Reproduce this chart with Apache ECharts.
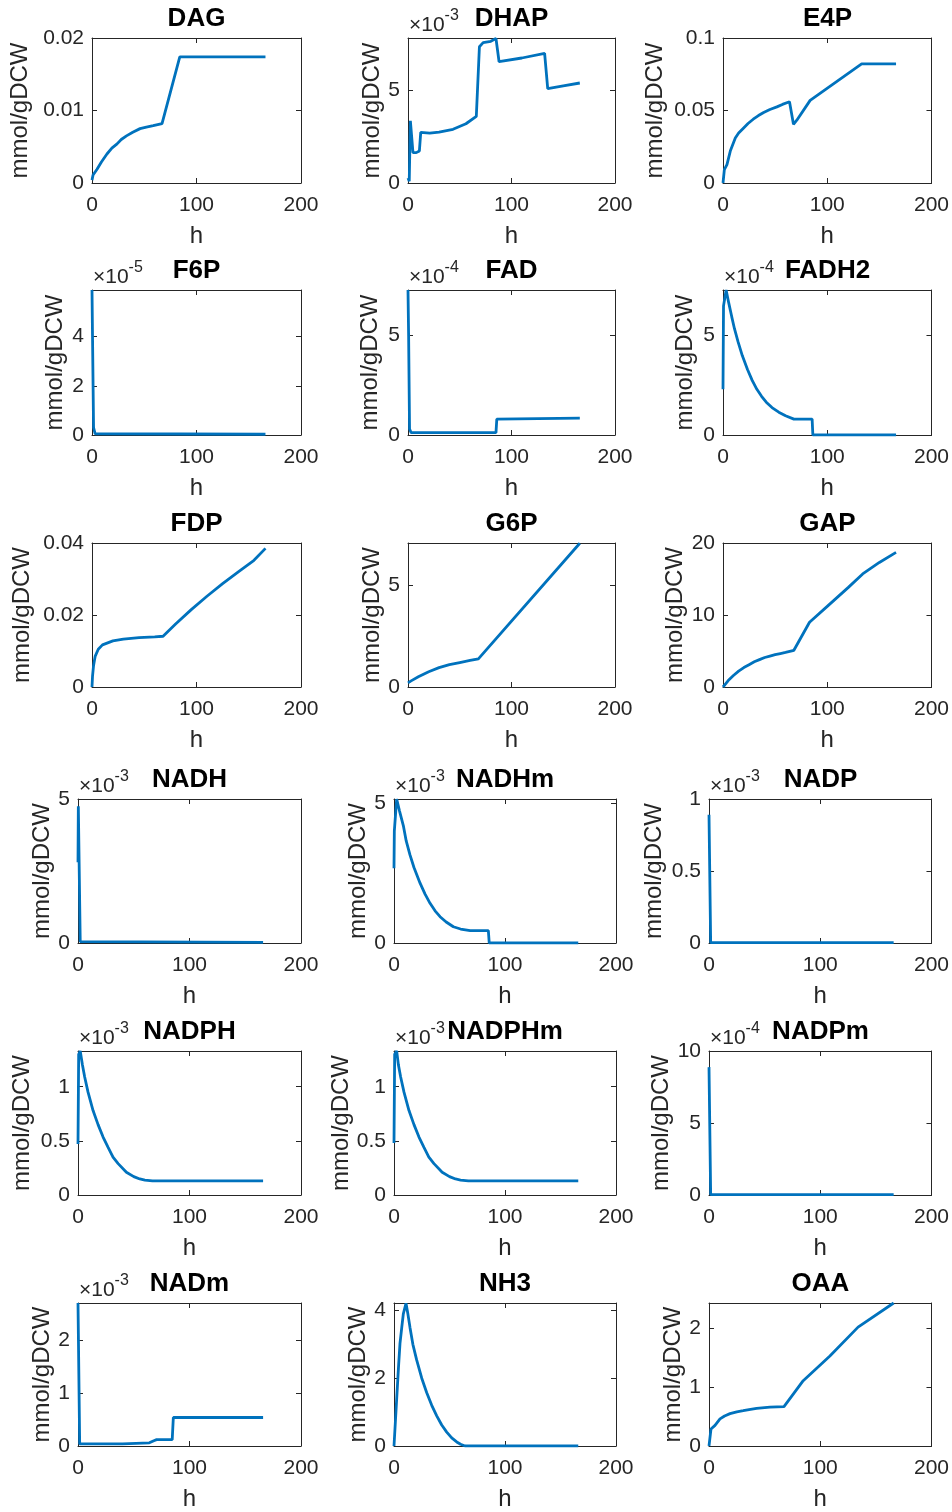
<!DOCTYPE html>
<html>
<head>
<meta charset="utf-8">
<script src="https://cdn.jsdelivr.net/npm/echarts@6/dist/echarts.min.js"></script>
<style>
html, body { margin: 0; padding: 0; background: #fff; }
#chart { width: 952px; height: 1512px; }
</style>
</head>
<body>
<div id="chart"></div>
<script>
// time in h, values in the units shown on each y axis (see exponent per panel)
const dagT = [0, 1, 4.8, 9, 14.3, 19, 24, 28, 33, 39, 46, 52, 58.6, 67, 84, 166];
const dagV = [0.0004, 0.0011, 0.0019, 0.0029, 0.004, 0.0048, 0.0054, 0.006, 0.0065, 0.007, 0.0075, 0.0077, 0.0079, 0.0082, 0.0174, 0.0174];

const dhapT = [0, 1.2, 2.3, 4.8, 8, 11, 12.3, 21, 30, 43.5, 56, 66, 69, 72.6, 80, 85, 88, 110, 132, 135, 150, 166];
const dhapV = [0.27, 0.1, 3.36, 1.64, 1.64, 1.73, 2.73, 2.69, 2.75, 2.9, 3.2, 3.6, 7.36, 7.58, 7.65, 7.8, 6.55, 6.75, 7.0, 5.1, 5.25, 5.4];

const e4pT = [0, 1.3, 3.8, 7, 11.8, 15, 19.8, 24, 29, 34, 39, 45, 51.7, 57, 63.8, 67.6, 70.8, 83.6, 133, 166];
const e4pV = [0, 0.0093, 0.0127, 0.022, 0.031, 0.0345, 0.038, 0.041, 0.044, 0.0465, 0.0486, 0.0507, 0.0525, 0.0542, 0.056, 0.0405, 0.0433, 0.057, 0.0822, 0.0822];

const f6pT = [0, 0.5, 1.5, 3, 166];
const f6pV = [5.9, 4, 0.3, 0.05, 0.03];

const fadT = [0, 0.6, 1.5, 3, 85, 85.8, 166];
const fadV = [7.3, 5, 0.3, 0.12, 0.12, 0.8, 0.85];

const fadh2T = [0, 0.5, 3, 5.5, 8.4, 11, 14.4, 18.5, 23.5, 28, 32.5, 37, 41.5, 47, 53.5, 60, 68, 85.5, 86.2, 166];
const fadh2V = [2.3, 6.5, 7.3, 6.65, 5.95, 5.35, 4.7, 4.0, 3.3, 2.75, 2.3, 1.95, 1.65, 1.38, 1.15, 0.97, 0.8, 0.8, 0, 0];

const fdpT = [0, 0.5, 1.5, 3, 6, 10, 20, 30, 45, 60, 68, 80, 95, 110, 125, 140, 155, 166];
const fdpV = [0, 0.003, 0.006, 0.0085, 0.0105, 0.0117, 0.0128, 0.0133, 0.0137, 0.0139, 0.0141, 0.0175, 0.0215, 0.0252, 0.0287, 0.032, 0.0352, 0.0385];

const g6pT = [0, 3, 10, 20, 30, 40, 50, 60, 68, 166];
const g6pV = [0.2, 0.3, 0.5, 0.75, 0.95, 1.1, 1.2, 1.3, 1.38, 7.05];

const gapT = [0, 2.5, 5, 10, 15, 20, 25, 30, 35, 40, 45, 50, 55, 60, 68, 83, 100, 120, 134, 150, 166];
const gapV = [0, 0.45, 0.9, 1.6, 2.2, 2.7, 3.1, 3.5, 3.8, 4.1, 4.3, 4.5, 4.65, 4.8, 5.1, 9.0, 11.2, 13.8, 15.7, 17.3, 18.7];

const nadhT = [0, 0.3, 2, 166];
const nadhV = [2.8, 4.75, 0.05, 0.02];

const nadhmT = [0, 0.3, 2.4, 5, 8.4, 11, 14.4, 18, 23.5, 28, 32.5, 37, 41.5, 47, 53.5, 60, 68.6, 85, 85.8, 166];
const nadhmV = [2.67, 4.0, 5.15, 4.72, 4.2, 3.65, 3.15, 2.7, 2.14, 1.75, 1.42, 1.15, 0.94, 0.75, 0.58, 0.5, 0.44, 0.44, 0, 0];

const nadpT = [0, 1.5, 166];
const nadpV = [0.89, 0.003, 0.003];

const nadphT = [0, 0.6, 2, 4, 6, 9, 13.5, 18, 22.5, 27, 31.4, 36, 43.4, 50, 55.4, 60, 66.8, 166];
const nadphV = [0.47, 1.3, 1.33, 1.2, 1.09, 0.95, 0.78, 0.65, 0.535, 0.44, 0.35, 0.29, 0.21, 0.17, 0.148, 0.138, 0.13, 0.13];

const nadphmT = [0, 0.6, 2.4, 4, 6, 9, 13.5, 18, 22.5, 27, 31.4, 36, 43.4, 50, 55.4, 60, 67, 166];
const nadphmV = [0.48, 1.3, 1.33, 1.2, 1.09, 0.95, 0.78, 0.65, 0.535, 0.44, 0.35, 0.29, 0.21, 0.17, 0.148, 0.138, 0.13, 0.13];

const nadpmT = [0, 1.5, 166];
const nadpmV = [8.88, 0.03, 0.03];

const nadmT = [0, 1.5, 40, 64, 68, 70.5, 84.5, 85.5, 166];
const nadmV = [2.71, 0.04, 0.04, 0.06, 0.1, 0.12, 0.12, 0.54, 0.54];

const nh3T = [0, 1, 2.4, 4, 5.4, 7, 8.4, 10.8, 12.5, 14.4, 17, 20.4, 25, 29.5, 34, 38.5, 43, 47.5, 52, 56.5, 60, 64, 166];
const nh3V = [0, 0, 1.38, 2.3, 3.03, 3.5, 3.9, 4.21, 3.9, 3.5, 3.0, 2.54, 2.0, 1.57, 1.2, 0.89, 0.62, 0.41, 0.24, 0.12, 0.05, 0, 0];

const oaaT = [0, 1.8, 5.4, 9.9, 14, 18.9, 25, 30.8, 36, 42.8, 54.8, 67.4, 84.7, 108.7, 134, 166];
const oaaV = [0, 0.29, 0.35, 0.46, 0.51, 0.55, 0.58, 0.6, 0.62, 0.64, 0.66, 0.67, 1.11, 1.53, 2.02, 2.43];

const panels = [
  { title: 'DAG', t: dagT, v: dagV, yMax: 0.02, yStep: 0.01, exp: '', nameGap: 60 },
  { title: 'DHAP', t: dhapT, v: dhapV, yMax: 7.83, yStep: 5, exp: '-3', nameGap: 23 },
  { title: 'E4P', t: e4pT, v: e4pV, yMax: 0.1, yStep: 0.05, exp: '', nameGap: 56 },
  { title: 'F6P', t: f6pT, v: f6pV, yMax: 5.9, yStep: 2, exp: '-5', nameGap: 25 },
  { title: 'FAD', t: fadT, v: fadV, yMax: 7.3, yStep: 5, exp: '-4', nameGap: 26 },
  { title: 'FADH2', t: fadh2T, v: fadh2V, yMax: 7.3, yStep: 5, exp: '-4', nameGap: 26 },
  { title: 'FDP', t: fdpT, v: fdpV, yMax: 0.04, yStep: 0.02, exp: '', nameGap: 58 },
  { title: 'G6P', t: g6pT, v: g6pV, yMax: 7.06, yStep: 5, exp: '', nameGap: 24 },
  { title: 'GAP', t: gapT, v: gapV, yMax: 20, yStep: 10, exp: '', nameGap: 34 },
  { title: 'NADH', t: nadhT, v: nadhV, yMax: 5, yStep: 5, exp: '-3', nameGap: 22 },
  { title: 'NADHm', t: nadhmT, v: nadhmV, yMax: 5.15, yStep: 5, exp: '-3', nameGap: 20 },
  { title: 'NADP', t: nadpT, v: nadpV, yMax: 1, yStep: 0.5, exp: '-3', nameGap: 43 },
  { title: 'NADPH', t: nadphT, v: nadphV, yMax: 1.33, yStep: 0.5, exp: '-3', nameGap: 44 },
  { title: 'NADPHm', t: nadphmT, v: nadphmV, yMax: 1.33, yStep: 0.5, exp: '-3', nameGap: 38 },
  { title: 'NADPm', t: nadpmT, v: nadpmV, yMax: 10, yStep: 5, exp: '-4', nameGap: 33 },
  { title: 'NADm', t: nadmT, v: nadmV, yMax: 2.71, yStep: 1, exp: '-3', nameGap: 22 },
  { title: 'NH3', t: nh3T, v: nh3V, yMax: 4.22, yStep: 2, exp: '', nameGap: 20 },
  { title: 'OAA', t: oaaT, v: oaaV, yMax: 2.43, yStep: 1, exp: '', nameGap: 23 }
];

const rowTop = [38, 290, 543, 799, 1051, 1303];
const rowHeight = [145, 145, 144, 144, 144, 144];
const colLeftA = [92, 408, 723], colWidthA = [209, 207, 209];
const colLeftB = [78, 394, 709], colWidthB = [223, 222, 223];

const FONT = 'Liberation Sans, Arial, Helvetica, sans-serif';
const AX = '#262626';

const grid = [], xAxis = [], yAxis = [], series = [], title = [];

panels.forEach((p, i) => {
  const row = Math.floor(i / 3), col = i % 3;
  const left = row < 3 ? colLeftA[col] : colLeftB[col];
  const width = row < 3 ? colWidthA[col] : colWidthB[col];
  const top = rowTop[row], height = rowHeight[row];
  grid.push({ left: left, top: top, width: width, height: height });

  const line = { show: true, onZero: false, lineStyle: { color: AX, width: 1 } };
  const tick = { show: true, inside: true, length: 5, lineStyle: { color: AX } };
  const fmt = v => {
    const k = v / p.yStep;
    return Math.abs(k - Math.round(k)) < 1e-6 ? String(+v.toPrecision(6)) : '';
  };

  xAxis.push({
    gridIndex: i, type: 'value', min: 0, max: 200, interval: 100, position: 'bottom',
    name: 'h', nameLocation: 'middle', nameGap: 41,
    nameTextStyle: { fontSize: 24, color: AX, fontFamily: FONT },
    axisLine: line, axisTick: tick, splitLine: { show: false },
    axisLabel: { fontSize: 21, color: AX, fontFamily: FONT, margin: 12 }
  });
  xAxis.push({
    gridIndex: i, type: 'value', min: 0, max: 200, interval: 100, position: 'top',
    axisLine: line, axisTick: tick, splitLine: { show: false }, axisLabel: { show: false }
  });
  yAxis.push({
    gridIndex: i, type: 'value', min: 0, max: p.yMax, interval: p.yStep, position: 'left',
    name: 'mmol/gDCW', nameLocation: 'middle', nameGap: p.nameGap,
    nameTextStyle: { fontSize: 24, color: AX, fontFamily: FONT },
    axisLine: line, axisTick: tick, splitLine: { show: false },
    axisLabel: { fontSize: 21, color: AX, fontFamily: FONT, margin: 8, formatter: fmt }
  });
  yAxis.push({
    gridIndex: i, type: 'value', min: 0, max: p.yMax, interval: p.yStep, position: 'right',
    axisLine: line, axisTick: tick, splitLine: { show: false }, axisLabel: { show: false }
  });

  series.push({
    type: 'line', xAxisIndex: 2 * i, yAxisIndex: 2 * i,
    data: p.t.map((t, k) => [t, p.v[k]]),
    showSymbol: false, symbol: 'none',
    lineStyle: { color: '#0072BD', width: 2.8 },
    itemStyle: { color: '#0072BD' }
  });

  if (p.exp) {
    title.push({
      text: '{b|×10}{s|' + p.exp + '}', left: left + 1, top: top - 30, padding: 0,
      textStyle: {
        fontSize: 21, fontWeight: 'normal', color: AX, fontFamily: FONT,
        rich: {
          b: { fontSize: 21, lineHeight: 28, verticalAlign: 'bottom', color: AX, fontFamily: FONT },
          s: { fontSize: 16, lineHeight: 16, verticalAlign: 'top', color: AX, fontFamily: FONT }
        }
      }
    });
  }
  title.push({
    text: p.title, left: left + width / 2, top: top - 32, textAlign: 'center', padding: 0,
    textStyle: { fontSize: 26, fontWeight: 'bold', color: '#000', fontFamily: FONT }
  });
});

const chart = echarts.init(document.getElementById('chart'));
chart.setOption({
  animation: false,
  backgroundColor: '#fff',
  title: title,
  grid: grid,
  xAxis: xAxis,
  yAxis: yAxis,
  series: series
});
</script>
</body>
</html>
